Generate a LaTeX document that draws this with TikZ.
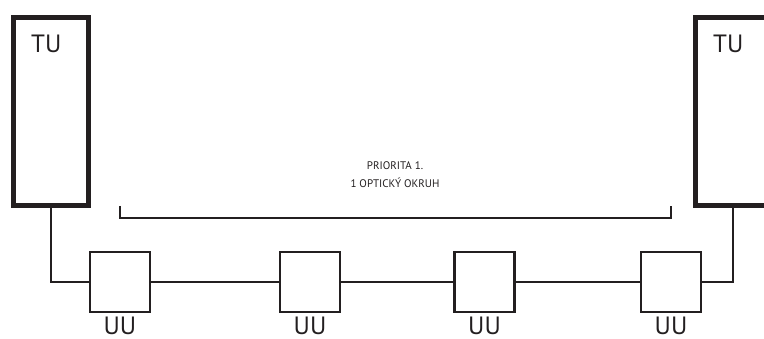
\documentclass[tikz,border=0pt]{standalone}
\usepackage{fontspec}
\setmainfont{PT Sans}
\usetikzlibrary{positioning}
\definecolor{ink}{RGB}{35,31,32}

\begin{document}
\begin{tikzpicture}[
    x=1pt,y=1pt,
    tu/.style={draw=ink,line width=5pt,minimum width=75pt,minimum height=188pt,inner sep=0pt},
    uu/.style={draw=ink,line width=2.5pt,minimum size=60pt,inner sep=0pt},
    tag/.style={font=\fontsize{25}{30}\selectfont,text=ink,inner sep=0pt},
    note/.style={font=\fontsize{11}{18}\selectfont,text=ink,align=center,inner sep=0pt},
    link/.style={draw=ink,line width=2pt}
]
\useasboundingbox (0,0) rectangle (764,338);
\clip (0,0) rectangle (764,338);
% end units
\node[tu] (tul) at (51,226.5) {};
\node[tu] (tur) at (733,226.5) {};
\node[tag,anchor=base west] (tultxt) at (31,285) {TU};
\node[tag,anchor=base west] (turtxt) at (713,285) {TU};
% ring units
\node[uu] (uu1) at (119.8,56) {};
\node[uu] (uu2) at (310,56) {};
\node[uu] (uu3) at (484.5,56) {};
\node[uu] (uu4) at (671,56) {};
\node[tag,anchor=base] (uu1txt) at (uu1.south |- 0,4) {UU};
\node[tag,anchor=base] (uu2txt) at (uu2.south |- 0,4) {UU};
\node[tag,anchor=base] (uu3txt) at (uu3.south |- 0,4) {UU};
\node[tag,anchor=base] (uu4txt) at (uu4.south |- 0,4) {UU};
\draw[link] (tul.south) |- (uu1.west);
\draw[link] (uu1) -- (uu2);
\draw[link] (uu2) -- (uu3);
\draw[link] (uu3) -- (uu4);
\draw[link] (uu4.east) -| (tur.south);
% bracket
\coordinate (brl) at (uu1.center |- 0,132);
\coordinate (brr) at (uu4.center |- 0,132);
\draw[link] (brl) -- ++(0,-12) -| (brr);
\node[note,anchor=base] (prio) at (395,150) {PRIORITA 1.\\1 OPTICKÝ OKRUH};
\end{tikzpicture}
\end{document}
